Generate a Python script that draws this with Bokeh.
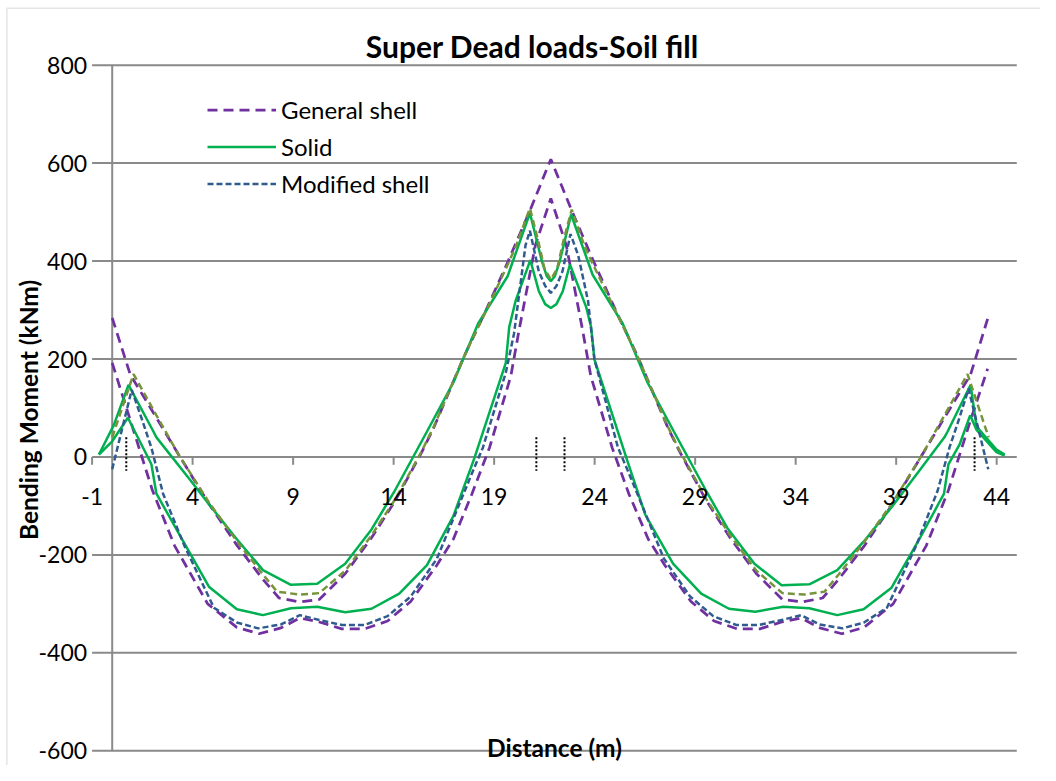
import math
from bokeh.plotting import figure
from bokeh.models import (Range1d, Label, LabelSet, BoxAnnotation,
                          ColumnDataSource, Legend, LegendItem)
from bokeh.core.properties import value
from bokeh.embed import file_html
from bokeh.resources import INLINE

FONT = "Lato"
GRID = "#8a8a8a"

# ---------------- data ----------------
x_min, x_max = -1, 45
y_min, y_max = -600, 800
x_ticks = [-1, 4, 9, 14, 19, 24, 29, 34, 39, 44]
x_tick_labels = ["-1", "4", "9", "14", "19", "24", "29", "34", "39", "44"]
y_ticks = [-600, -400, -200, 0, 200, 400, 600, 800]
y_tick_labels = ["-600", "-400", "-200", "0", "200", "400", "600", "800"]

# General shell (upper curve)
x_gen_a = [0.0, 0.9, 2.2, 3.3, 4.8, 6.2, 7.5, 8.3, 9.3, 10.3, 11.6, 12.9, 14.1, 15.4,
           16.0, 17.5, 18.6, 19.7, 20.8, 21.82, 22.84, 23.94, 25.04, 26.14, 27.64,
           28.24, 29.54, 30.74, 32.04, 33.34, 34.34, 35.34, 36.14, 37.44, 38.84,
           40.3, 41.4, 42.7, 43.55]
y_gen_a = [284, 168, 80, 5, -95, -180, -250, -288, -296, -291, -238, -165, -88, 10,
           60, 205, 300, 400, 505, 608, 505, 400, 300, 205, 60,
           10, -88, -165, -238, -291, -296, -288, -250, -180, -95,
           5, 80, 168, 282]

# General shell (lower curve)
x_gen_b = [0.0, 0.9, 2.0, 3.1, 4.75, 6.2, 7.3, 8.4, 9.33, 10.3, 11.42, 12.56, 13.7,
           14.85, 16.15, 16.97, 17.9, 18.77, 19.83, 20.24, 21.05, 21.82, 22.59,
           23.4, 23.81, 24.87, 25.7, 26.67, 27.49, 28.79, 29.94, 31.08, 32.22, 33.3,
           34.27, 35.2, 36.3, 37.4, 38.85, 40.5, 41.6, 42.7, 43.55]
y_gen_b = [192, 75, -68, -181, -300, -348, -361, -349, -329, -337, -351, -351, -335,
           -295, -221, -168, -75, 19, 165, 259, 432, 528, 432,
           259, 165, 19, -75, -168, -221, -295, -335, -351, -351, -337,
           -329, -349, -361, -348, -300, -181, -68, 75, 180]

# Solid (upper curve)
x_sol_a = [-0.66, 0.08, 0.81, 2.05, 2.2, 3.9, 4.9, 6.2, 7.5, 8.89, 10.2, 11.59, 12.9,
           14.03, 15.66, 16.97, 18.2, 19.67, 20.78, 21.38, 21.62, 21.82, 22.02,
           22.26, 22.83, 23.9, 25.4, 26.63, 27.94, 29.57, 30.6, 31.95, 33.3, 34.68,
           36.07, 37.38, 38.8, 40.15, 41.4, 41.56, 42.7, 43.0, 43.99, 44.4]
y_sol_a = [5, 65, 147, 52, 40, -48, -101, -168, -231, -261, -259, -218, -148,
           -71, 52, 152, 272, 369, 498, 399, 369, 359, 369,
           399, 495, 372, 272, 152, 52, -71, -145, -218, -262, -260,
           -231, -173, -101, -28, 40, 52, 147, 62, 15, 5]

# Solid (lower curve)
x_sol_b = [-0.66, 0.0, 0.78, 1.46, 1.95, 2.2, 3.5, 4.81, 6.2, 7.5, 8.89, 10.2, 11.59,
           12.9, 14.28, 15.66, 16.97, 18.03, 19.58, 19.75, 20.07, 20.8, 21.22, 21.54,
           21.82, 22.1, 22.42, 22.77, 23.58, 23.82, 23.99, 25.57, 26.52, 27.9, 29.3,
           30.68, 31.99, 33.38, 34.68, 36.07, 37.38, 38.77, 40.15, 41.38, 41.6,
           42.15, 42.68, 43.0, 43.99, 44.4]
y_sol_b = [5, 32, 80, 25, -15, -75, -170, -265, -311, -323, -309, -306, -317,
           -310, -279, -221, -121, -1, 192, 265, 319, 402, 339, 312,
           304, 312, 339, 393, 306, 266, 199, -1, -118, -218, -279,
           -310, -316, -306, -309, -323, -311, -267, -168, -75, -15,
           25, 85, 55, 10, 3]

# Modified shell (upper curve)
x_mod_a = [0.0, 1.06, 2.2, 3.3, 4.8, 6.2, 7.5, 8.2, 9.3, 10.3, 11.6, 12.9, 14.1, 15.4,
           16.0, 17.5, 18.6, 19.7, 20.1, 20.78, 21.2, 21.5, 21.82, 22.14, 22.44,
           22.86, 23.5, 23.9, 25.04, 26.14, 27.64, 28.24, 29.54, 30.74, 32.04,
           33.34, 34.44, 35.44, 36.14, 37.44, 38.84, 40.3, 41.4, 42.55, 43.6]
y_mod_a = [40, 169, 85, 5, -92, -172, -240, -275, -281, -278, -232, -160, -85, 12,
           62, 205, 298, 395, 432, 508, 440, 385, 362, 385, 440,
           505, 430, 395, 298, 205, 62, 12, -85, -160, -232,
           -278, -281, -275, -240, -172, -92, 5, 85, 169, 40]

# Modified shell (lower curve)
x_mod_b = [0.0, 0.97, 1.46, 1.95, 2.53, 3.59, 5.06, 6.2, 7.26, 8.4, 9.33, 10.3, 11.42,
           12.56, 13.7, 14.85, 16.15, 17.95, 18.44, 19.58, 19.99, 20.56, 20.78,
           21.22, 21.54, 21.82, 22.1, 22.4, 22.8, 23.18, 23.67, 23.99, 25.16, 25.65,
           27.45, 28.75, 29.9, 31.04, 32.18, 33.3, 34.27, 35.2, 36.34, 37.4, 38.54,
           40.0, 41.07, 41.65, 42.14, 42.6, 43.58]
y_mod_b = [-25, 137, 79, 19, -75, -181, -308, -338, -350, -342, -323, -333, -343,
           -343, -325, -285, -208, -28, 19, 172, 252, 432, 462,
           379, 349, 335, 349, 379, 455, 412, 319, 199, 19, -28,
           -208, -285, -325, -343, -343, -333, -323, -342, -350, -338, -308,
           -181, -68, 19, 79, 139, -25]

# support positions (dotted markers)
support_x = [0.7, 21.1, 22.5, 42.9]
support_top = [40, 40, 40, 40]
support_bottom = [-28, -28, -28, -28]

# ---------------- figure ----------------
# The plot frame fills the whole canvas; the chart's axes are drawn inside it.
p = figure(width=1040, height=765, output_backend="svg", toolbar_location=None,
           title=None, x_range=Range1d(-5.557, 46.18), y_range=Range1d(-630, 932),
           x_axis_location=None, y_axis_location=None,
           min_border_left=0, min_border_right=0, min_border_top=0,
           min_border_bottom=0)
p.outline_line_color = None
p.background_fill_color = "white"
p.border_fill_color = "white"
p.xgrid.visible = False
p.ygrid.visible = False

# chart-area border (only its left and top edges fall inside the picture)
p.add_layout(BoxAnnotation(left=-5.24, top=916, right=48, bottom=-700,
                           fill_alpha=0, line_color="#a6a6a6", line_width=1.5))

# horizontal gridlines spanning the x-axis extent
grid_src = ColumnDataSource(dict(y=y_ticks, x0=[x_min] * len(y_ticks),
                                 x1=[x_max] * len(y_ticks)))
p.segment(x0="x0", y0="y", x1="x1", y1="y", source=grid_src,
          line_color=GRID, line_width=2)
# vertical axis line crossing at x = 0
p.segment(x0=[0], y0=[y_min], x1=[0], y1=[y_max], line_color=GRID, line_width=2)

# y tick labels (placed left of x = -1)
ytick_src = ColumnDataSource(dict(x=[x_min] * len(y_ticks), y=y_ticks, t=y_tick_labels))
p.add_layout(LabelSet(x="x", y="y", text="t", source=ytick_src,
                      text_align="right", text_baseline="middle", x_offset=-5,
                      text_font=value(FONT), text_font_size=value("23px"),
                      text_color="black"))

# x-axis tick marks and labels (horizontal axis crosses at y = 0)
tick_src = ColumnDataSource(dict(x=x_ticks, y0=[0] * len(x_ticks),
                                 y1=[-16] * len(x_ticks), t=x_tick_labels))
p.segment(x0="x", y0="y0", x1="x", y1="y1", source=tick_src,
          line_color=GRID, line_width=2)
p.add_layout(LabelSet(x="x", y="y0", text="t", source=tick_src,
                      text_align="center", text_baseline="alphabetic",
                      y_offset=-48, text_font=value(FONT), text_font_size=value("23px"),
                      text_color="black"))

# series
r_gen_a = p.line(x_gen_a, y_gen_a, line_color="#7030A0", line_width=2.75, line_dash="10 6")
r_gen_b = p.line(x_gen_b, y_gen_b, line_color="#7030A0", line_width=2.75, line_dash="10 6")
r_sol_a = p.line(x_sol_a, y_sol_a, line_color="#00B050", line_width=2.5)
r_sol_b = p.line(x_sol_b, y_sol_b, line_color="#00B050", line_width=2.5)
r_mod_b = p.line(x_mod_b, y_mod_b, line_color="#2F5B8F", line_width=2.5, line_dash="6 3")
r_mod_a = p.line(x_mod_a, y_mod_a, line_color="#77933C", line_width=2.5, line_dash="7 4")

sup_src = ColumnDataSource(dict(x=support_x, top=support_top, bottom=support_bottom))
p.segment(x0="x", y0="top", x1="x", y1="bottom", source=sup_src,
          line_color="black", line_width=2, line_dash="2 2")

legend = Legend(items=[LegendItem(label="General shell", renderers=[r_gen_a]),
                       LegendItem(label="Solid", renderers=[r_sol_a]),
                       LegendItem(label="Modified shell", renderers=[r_mod_b])],
                location=(207, 563), orientation="vertical",
                glyph_width=69, glyph_height=37, label_height=37,
                spacing=0, padding=0, margin=0, label_standoff=5,
                border_line_color=None, background_fill_alpha=0,
                label_text_font=FONT, label_text_font_size="24px",
                label_text_color="black")
p.add_layout(legend)

# titles
p.add_layout(Label(x=20.9, y=840, text="Super Dead loads-Soil fill",
                   text_align="center", text_baseline="alphabetic",
                   text_font=FONT, text_font_style="bold", text_font_size="30px",
                   text_color="black"))
p.add_layout(Label(x=-4.18, y=96, angle=math.pi / 2, text="Bending Moment (kNm)",
                   text_align="center", text_baseline="middle",
                   text_font=FONT, text_font_style="bold", text_font_size="24.5px",
                   text_color="black"))
p.add_layout(Label(x=22, y=-600, y_offset=3, text="Distance (m)",
                   text_align="center", text_baseline="alphabetic",
                   text_font=FONT, text_font_style="bold", text_font_size="24.5px",
                   text_color="black"))

open("out.html", "w").write(file_html(p, INLINE))
